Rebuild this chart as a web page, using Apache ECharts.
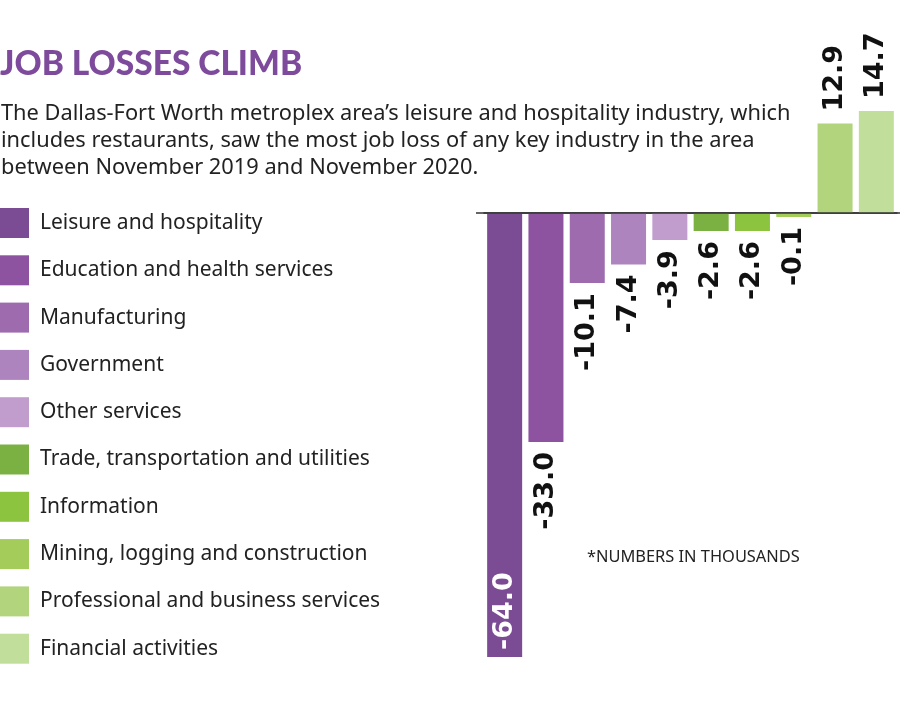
<!DOCTYPE html>
<html>
<head>
<meta charset="utf-8">
<script src="https://cdn.jsdelivr.net/npm/echarts@6/dist/echarts.min.js"></script>
<style>
    html, body { margin: 0; padding: 0; background: #fff; }
    #chart { width: 900px; height: 721px; }
</style>
</head>
<body>
<div id="chart"></div>
<script>
    var industries = ['Leisure and hospitality', 'Education and health services', 'Manufacturing',
        'Government', 'Other services', 'Trade, transportation and utilities', 'Information',
        'Mining, logging and construction', 'Professional and business services', 'Financial activities'];
    var changes = [-64.0, -33.0, -10.1, -7.4, -3.9, -2.6, -2.6, -0.1, 12.9, 14.7];
    var colors = ['#7b4b94', '#8d53a0', '#9d6bae', '#ad84bd', '#c09dcc',
        '#7bb043', '#8cc43f', '#a3cc5a', '#b1d47c', '#c1df9a'];

    var labelFont = {fontFamily: 'DejaVu Sans', fontWeight: 'bold', fontSize: 27, color: '#111'};

    // one series per industry so the legend lists every bar; barGap -100% keeps them in their own slot
    var series = [];
    industries.forEach(function (name, i) {
        var v = changes[i];
        var label;
        if (i == 0) {
            label = {show: true, position: 'insideBottom', rotate: 90, align: 'left', verticalAlign: 'middle',
                distance: 7, color: '#fff'};
        } else if (v < 0) {
            label = {show: true, position: 'bottom', rotate: 90, align: 'right', verticalAlign: 'middle', distance: 10};
        } else {
            label = {show: true, position: 'top', rotate: 90, align: 'left', verticalAlign: 'middle', distance: 12};
        }
        label.fontFamily = labelFont.fontFamily;
        label.fontWeight = labelFont.fontWeight;
        label.fontSize = labelFont.fontSize;
        if (!label.color) label.color = labelFont.color;
        label.formatter = function (p) { return p.value.toFixed(1); };

        var data = industries.map(function (n, j) { return j == i ? v : '-'; });
        series.push({
            name: name,
            type: 'bar',
            data: data,
            barWidth: 35,
            barGap: '-100%',
            barMinHeight: 4,
            itemStyle: {color: colors[i]},
            label: label
        });
    });

    var option = {
        animation: false,
        backgroundColor: '#fff',
        title: [
            {
                text: 'JOB LOSSES CLIMB',
                left: 0, top: 47, padding: 0,
                textStyle: {fontFamily: "'Lato Black', Lato", fontWeight: 900, fontSize: 33.5, color: '#7d4a9c'}
            },
            {
                text: 'The Dallas-Fort Worth metroplex area\u2019s leisure and hospitality industry, which\n' +
                    'includes restaurants, saw the most job loss of any key industry in the area\n' +
                    'between November 2019 and November 2020.',
                left: 1, top: 100, padding: 0,
                textStyle: {fontFamily: 'Noto Sans', fontWeight: 'normal', fontSize: 21.8, lineHeight: 27, color: '#222'}
            },
            {
                text: '*NUMBERS IN THOUSANDS',
                left: 587, top: 549, padding: 0,
                textStyle: {fontFamily: 'Noto Sans', fontWeight: 'normal', fontSize: 16.4, color: '#222'}
            }
        ],
        legend: {
            orient: 'vertical',
            left: 0, top: 208, padding: 0,
            icon: 'rect',
            itemWidth: 29, itemHeight: 30, itemGap: 17.3,
            data: industries,
            textStyle: {fontFamily: 'Noto Sans', fontSize: 21, color: '#222', padding: [2, 0, 0, 6]}
        },
        grid: {left: 484, right: 3, top: 109, bottom: 64},
        xAxis: {
            type: 'category',
            data: industries,
            axisLine: {onZero: true, lineStyle: {color: '#333', width: 1.5}},
            axisTick: {show: false},
            axisLabel: {show: false}
        },
        yAxis: {
            type: 'value',
            min: -64, max: 15,
            show: false,
            splitLine: {show: false}
        },
        series: series
    };

    var chart = echarts.init(document.getElementById('chart'));
    chart.setOption(option);

    // stretch the zero line a little past the bars like the print graphic
    var y0 = chart.convertToPixel({yAxisIndex: 0}, 0);
    chart.setOption({
        graphic: [{type: 'line', shape: {x1: 476, y1: y0, x2: 900, y2: y0}, style: {stroke: '#333', lineWidth: 1.5}, z: 10}]
    });
</script>
</body>
</html>
